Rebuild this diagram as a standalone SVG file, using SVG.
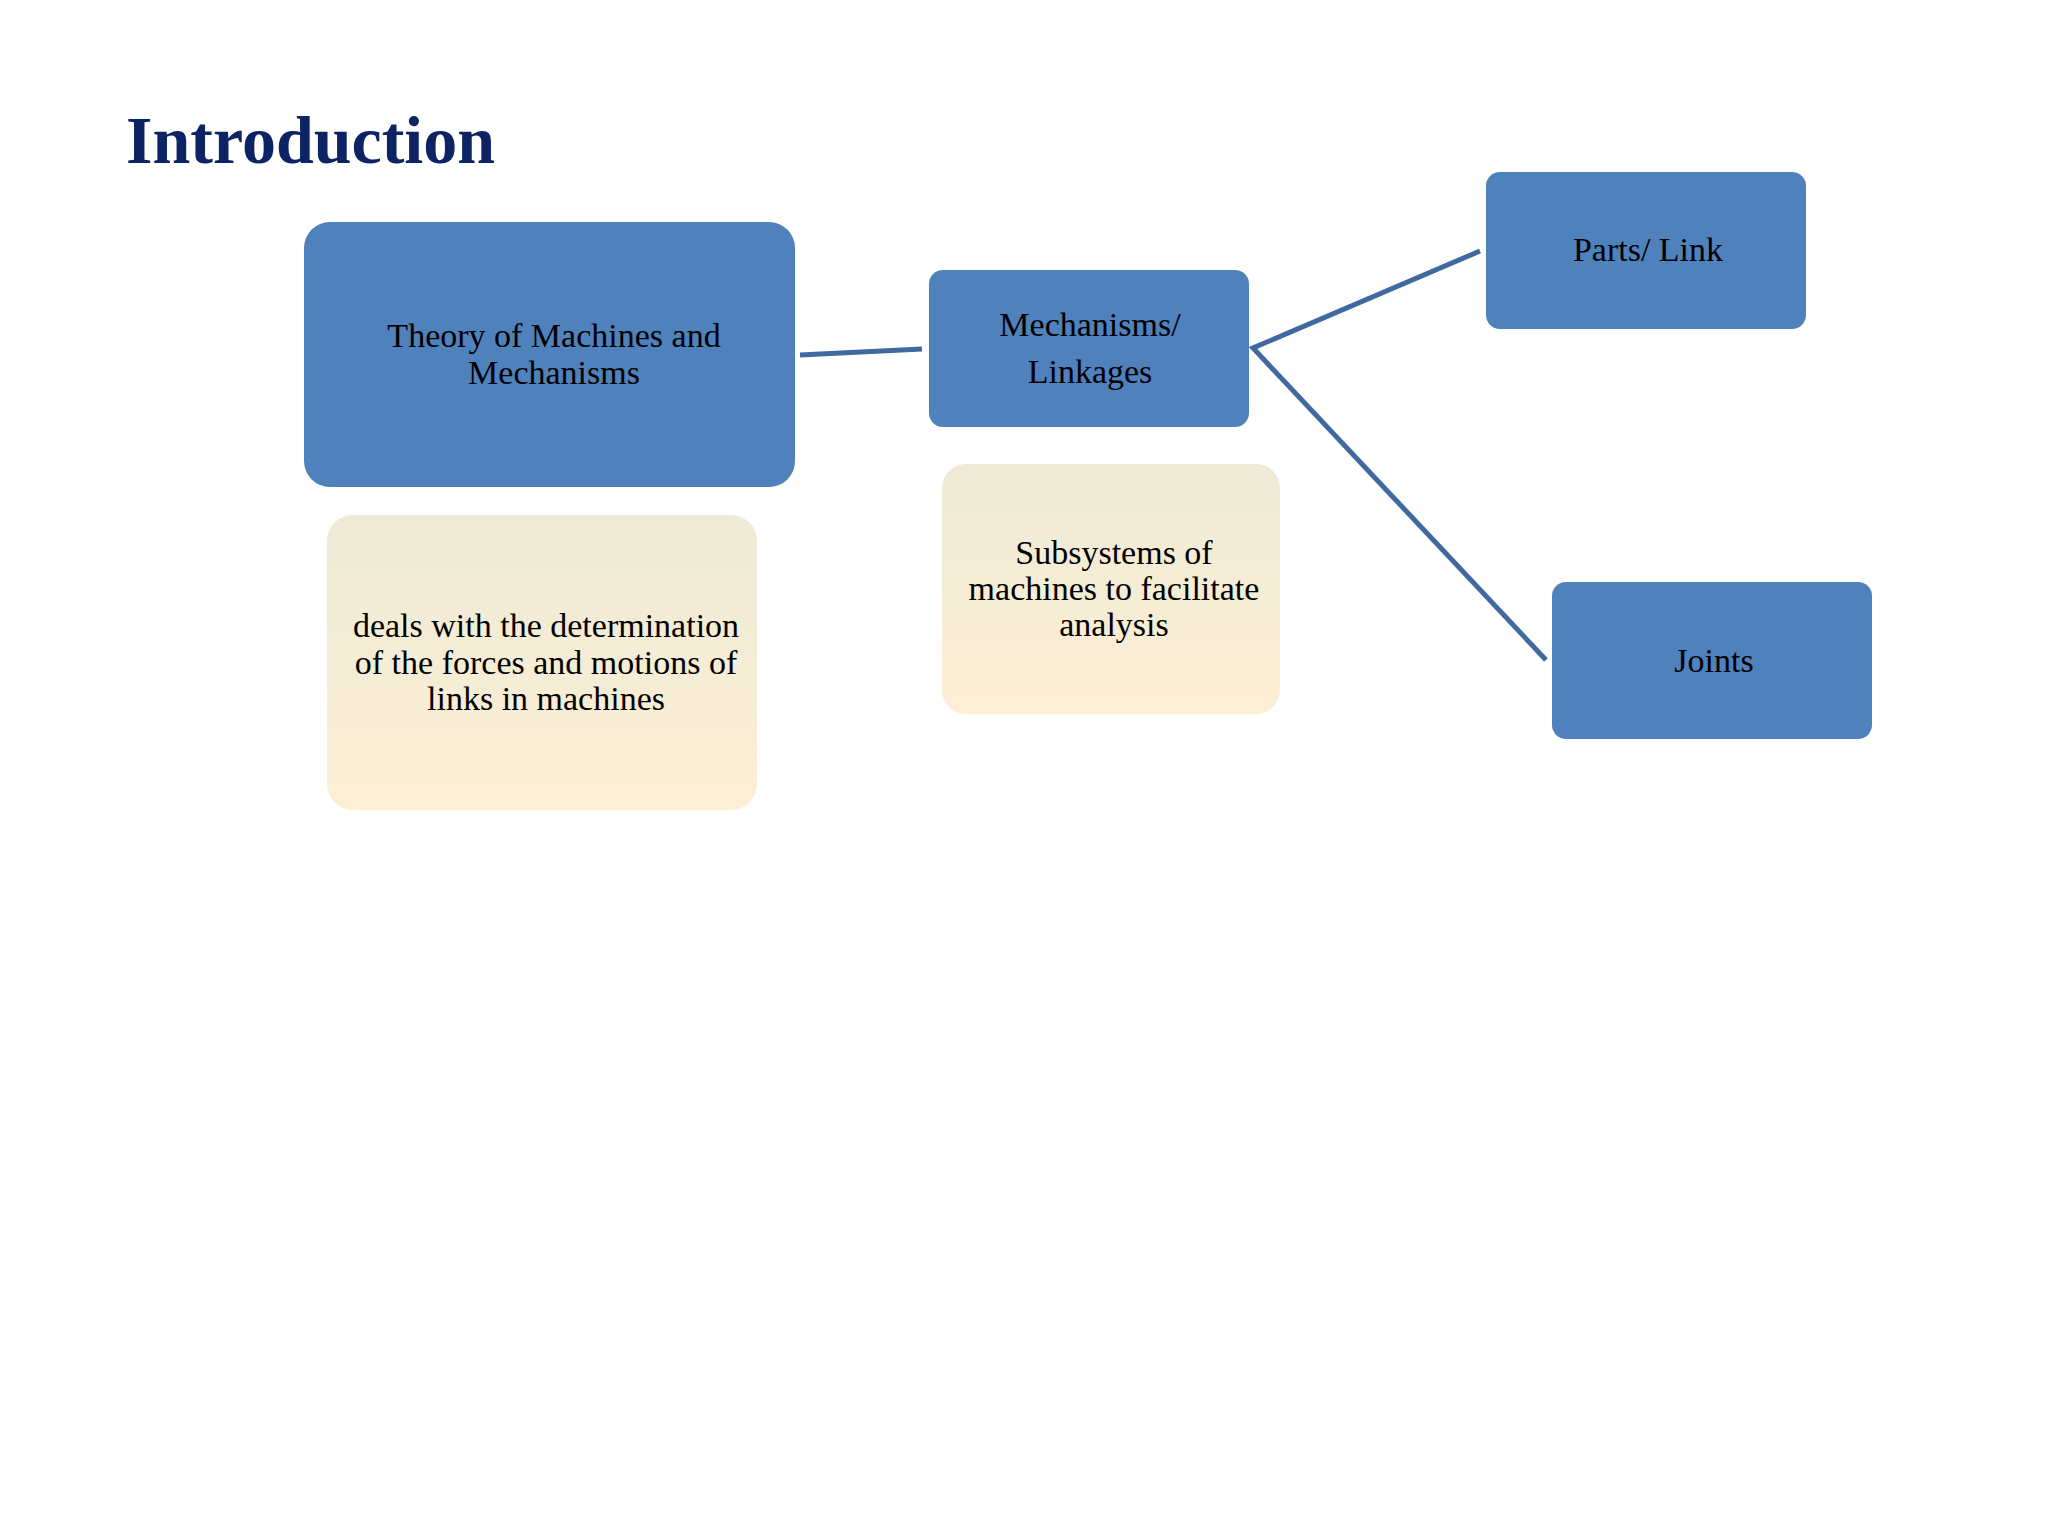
<svg xmlns="http://www.w3.org/2000/svg" width="2048" height="1536" viewBox="0 0 2048 1536">
<defs>
<style>
.blue{fill:#4F81BD;}
.note{fill:url(#beige);}
.lbl{font-family:"Liberation Serif","Times New Roman",serif;font-size:34px;fill:#000;text-anchor:middle;}
.conn{stroke:#4069A0;stroke-width:5;fill:none;stroke-linecap:butt;}
.title{font-family:"Liberation Serif","Times New Roman",serif;font-size:68px;font-weight:bold;fill:#0C2463;}
</style>
<linearGradient id="beige" x1="0" y1="0" x2="0" y2="1">
<stop offset="0" stop-color="#EEEAD6"/>
<stop offset="1" stop-color="#FDEFD4"/>
</linearGradient>
</defs>
<rect width="2048" height="1536" fill="#FFFFFF"/>
<text class="title" x="126" y="163">Introduction</text>
<g id="connectors">
<line class="conn" x1="800" y1="355" x2="922" y2="349"/>
<polyline class="conn" points="1480,251 1253,348 1546,660"/>
</g>
<g id="theory">
<rect class="blue" x="304" y="222" width="491" height="265" rx="26"/>
<text class="lbl" x="554" y="347">Theory of Machines and</text>
<text class="lbl" x="554" y="384">Mechanisms</text>
</g>
<g id="mechanisms">
<rect class="blue" x="929" y="270" width="320" height="157" rx="14"/>
<text class="lbl" x="1090" y="336">Mechanisms/</text>
<text class="lbl" x="1090" y="383">Linkages</text>
</g>
<g id="parts">
<rect class="blue" x="1486" y="172" width="320" height="157" rx="14"/>
<text class="lbl" x="1648" y="261">Parts/ Link</text>
</g>
<g id="joints">
<rect class="blue" x="1552" y="582" width="320" height="157" rx="14"/>
<text class="lbl" x="1714" y="672">Joints</text>
</g>
<g id="note-theory">
<rect class="note" x="327" y="515" width="430" height="295" rx="26"/>
<text class="lbl" x="546" y="637">deals with the determination</text>
<text class="lbl" x="546" y="674">of the forces and motions of</text>
<text class="lbl" x="546" y="710">links in machines</text>
</g>
<g id="note-mechanisms">
<rect class="note" x="942" y="464" width="338" height="250" rx="24"/>
<text class="lbl" x="1114" y="564">Subsystems of</text>
<text class="lbl" x="1114" y="600">machines to facilitate</text>
<text class="lbl" x="1114" y="636">analysis</text>
</g>
</svg>
